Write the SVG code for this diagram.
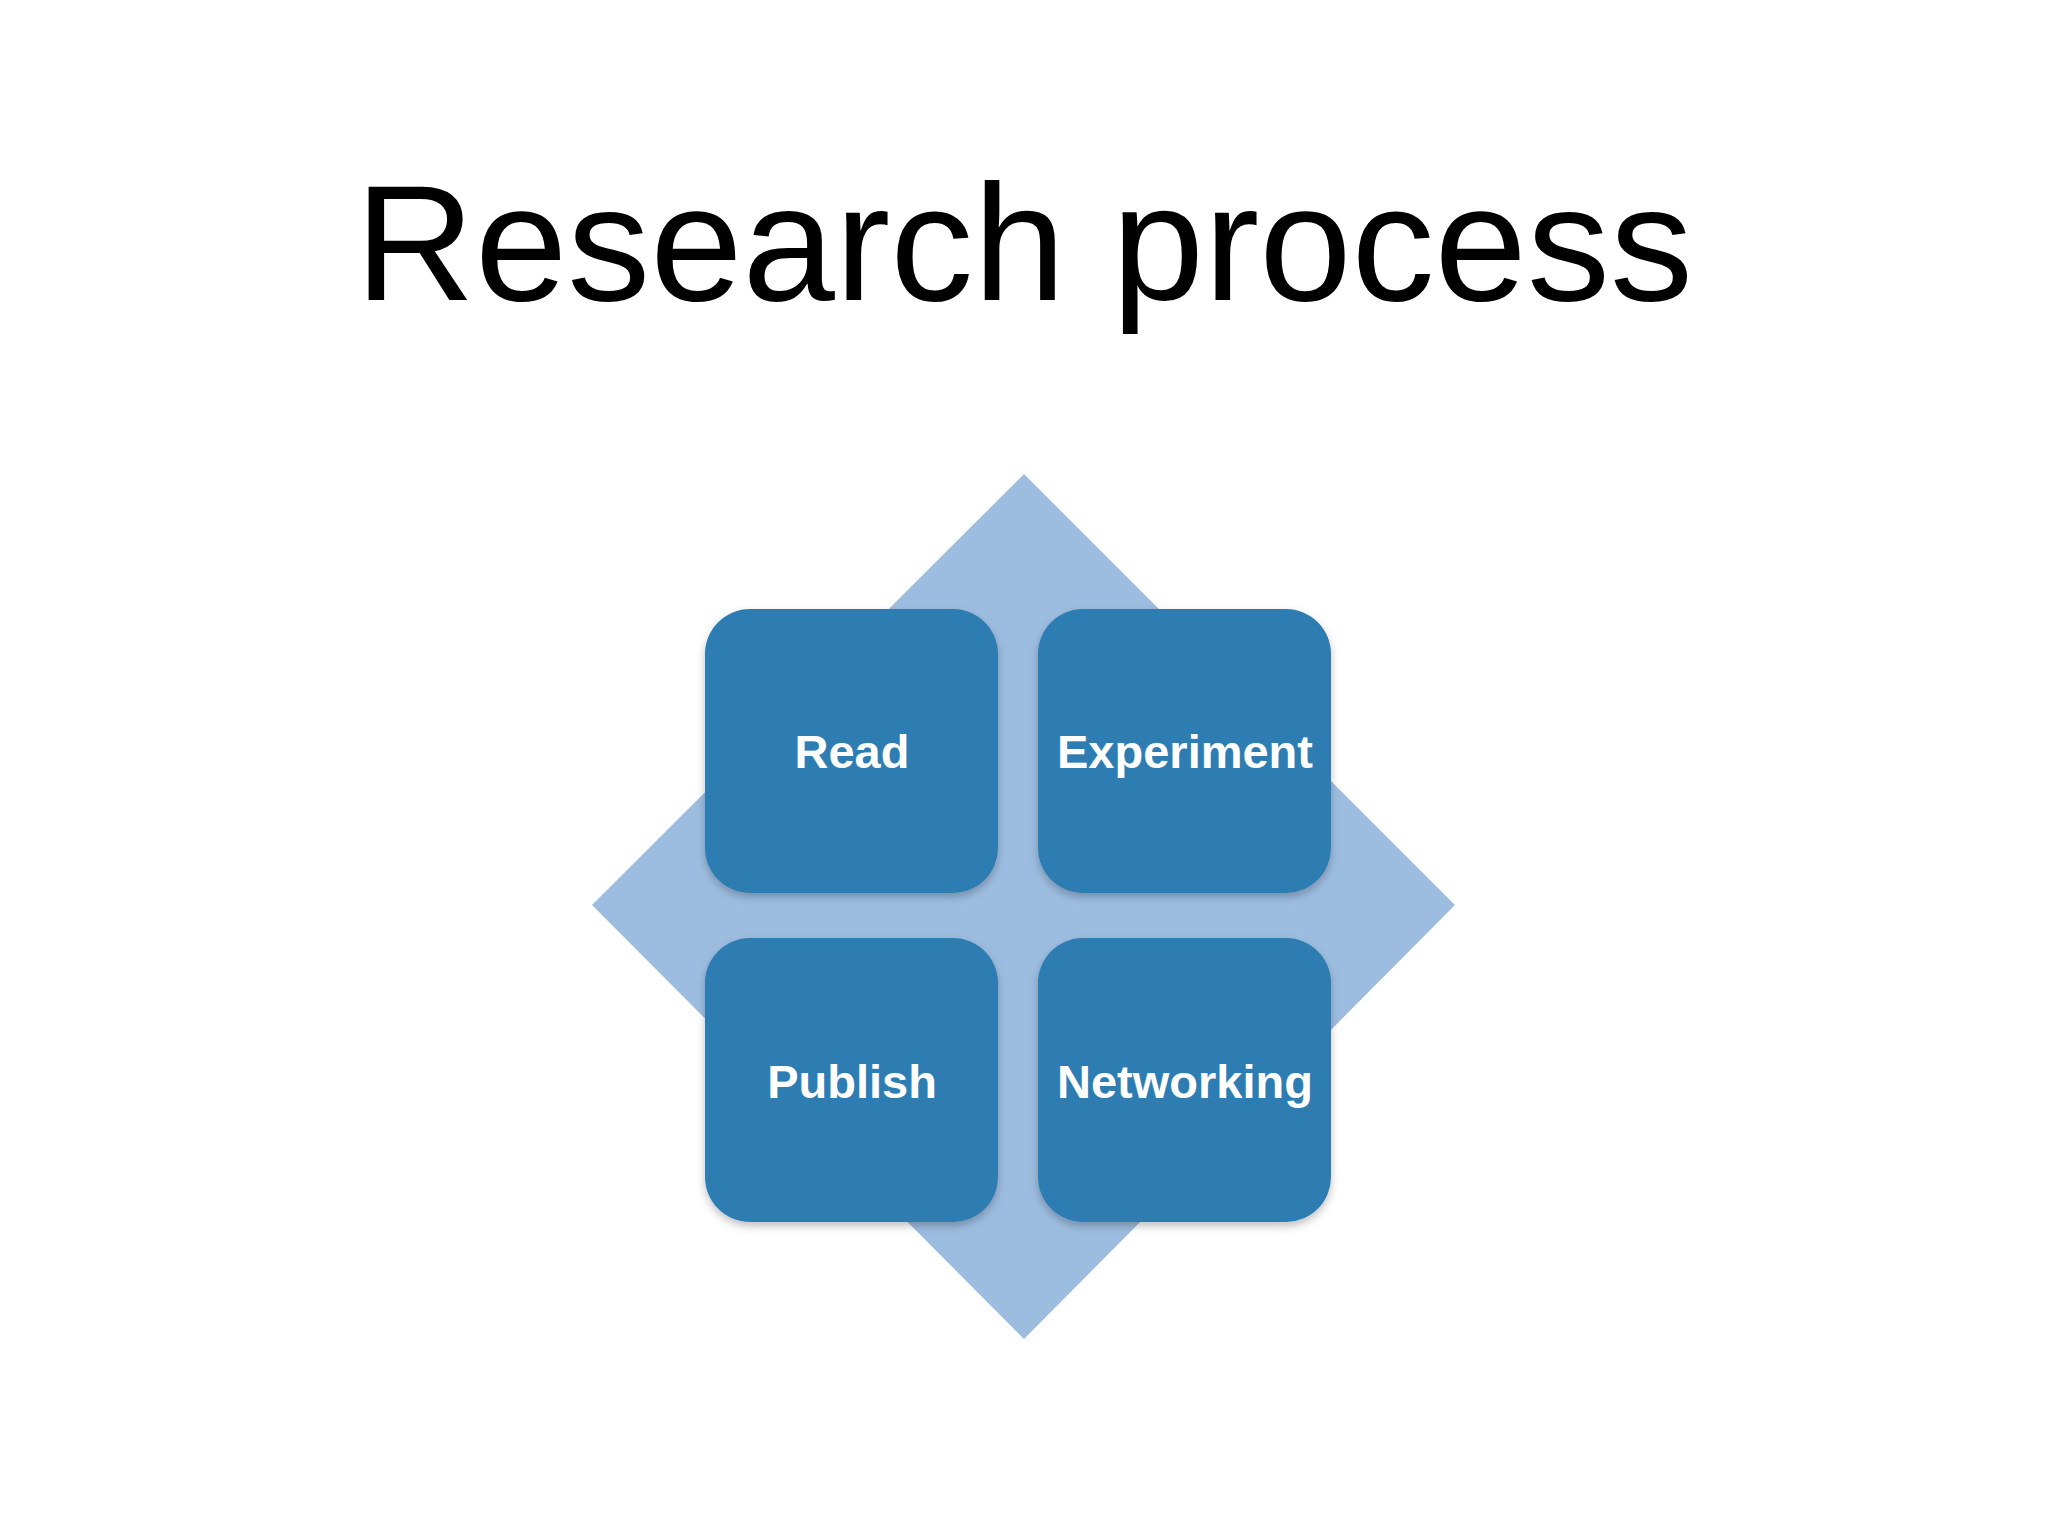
<svg xmlns="http://www.w3.org/2000/svg" width="2048" height="1536" viewBox="0 0 2048 1536">
<style>
.box{fill:#2f7db2}
.lbl{fill:#fff;font-family:"Liberation Sans",Arial,sans-serif;font-weight:bold;font-size:47px;text-anchor:middle}
</style>
<defs><filter id="sh" x="-10%" y="-10%" width="130%" height="130%"><feDropShadow dx="0" dy="4" stdDeviation="4" flood-color="#000" flood-opacity="0.25"/></filter></defs>
<rect width="2048" height="1536" fill="#fff"/>
<text x="1024" y="300" font-family="Liberation Sans, Arial, sans-serif" font-size="166" text-anchor="middle" fill="#000">Research process</text>
<g id="diamond"><polygon points="1024,474 1455,905 1024,1339 592,905" fill="#9dbde0"/></g>
<g id="read"><rect class="box" x="705" y="609" width="293" height="284" rx="45" filter="url(#sh)"/><text class="lbl" x="852" y="768">Read</text></g>
<g id="experiment"><rect class="box" x="1038" y="609" width="293" height="284" rx="45" filter="url(#sh)"/><text class="lbl" x="1185" y="768">Experiment</text></g>
<g id="publish"><rect class="box" x="705" y="938" width="293" height="284" rx="45" filter="url(#sh)"/><text class="lbl" x="852" y="1098">Publish</text></g>
<g id="networking"><rect class="box" x="1038" y="938" width="293" height="284" rx="45" filter="url(#sh)"/><text class="lbl" x="1185" y="1098">Networking</text></g>
<g id="connectors"></g>
</svg>
